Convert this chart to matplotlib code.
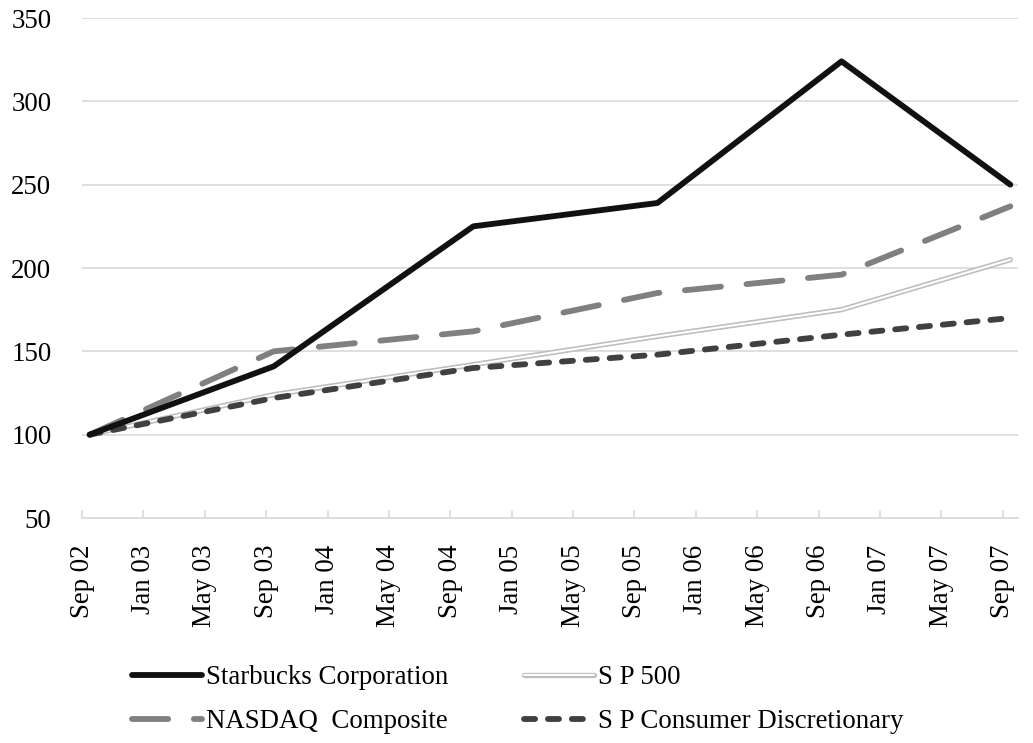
import matplotlib
matplotlib.use("Agg")
import matplotlib.pyplot as plt
import matplotlib.patheffects as pe
import numpy as np

# Fiscal year-end dates and indexed values (base 100)
dates = ['2002-09-29', '2003-09-28', '2004-10-03', '2005-10-02', '2006-10-01', '2007-09-30']
starbucks = [100, 141, 225, 239, 324, 250]
nasdaq = [100, 150, 162, 185, 196, 237]
sp500 = [100, 124, 142, 159, 175, 205]
sp_consumer = [100, 122, 140, 148, 160, 170]

tick_labels = ['Sep 02', 'Jan 03', 'May 03', 'Sep 03', 'Jan 04', 'May 04',
               'Sep 04', 'Jan 05', 'May 05', 'Sep 05', 'Jan 06', 'May 06',
               'Sep 06', 'Jan 07', 'May 07', 'Sep 07']

plt.rcParams['font.family'] = ['Liberation Serif', 'DejaVu Serif']

# month axis: 0 = Sep 2002, points sit in the middle of their month
def month_pos(d):
    y, m, _ = d.split('-')
    return (int(y) - 2002) * 12 + int(m) - 9 + 0.5

x = np.array([month_pos(d) for d in dates])

fig = plt.figure(figsize=(10.33, 7.43), dpi=100)
ax = fig.add_axes([82 / 1033, 1 - 518 / 743, (1018 - 82) / 1033, 500 / 743])

lw = 4.2
ax.plot(x, starbucks, color='#111111', lw=lw, solid_capstyle='round',
        label='Starbucks Corporation', zorder=5)
ax.plot(x, sp500, color='white', lw=1.5, solid_capstyle='round',
        path_effects=[pe.Stroke(linewidth=3.8, foreground='#bdbdbd'), pe.Normal()],
        label='S P 500', zorder=3)
ax.plot(x, nasdaq, color='#808080', lw=lw, dashes=(6.2, 4.4), dash_capstyle='round',
        label='NASDAQ  Composite', zorder=4)
ax.plot(x, sp_consumer, color='#404040', lw=lw, dashes=(1.9, 2.2), dash_capstyle='round',
        label='S P Consumer Discretionary', zorder=4)

ax.set_xlim(0, 61)
ax.set_ylim(50, 350)
ax.set_yticks(np.arange(50, 351, 50))
ax.set_xticks(np.arange(0, 61, 4))
ax.set_xticklabels(tick_labels, rotation=90)

ax.grid(axis='y', color='#d9d9d9', lw=1.2)
ax.set_axisbelow(True)
for s in ['top', 'right', 'left']:
    ax.spines[s].set_visible(False)
ax.spines['bottom'].set_color('#d9d9d9')
ax.spines['bottom'].set_linewidth(1.2)
ax.tick_params(axis='y', length=0, pad=22, labelsize=19.4)
ax.tick_params(axis='x', direction='in', length=5.5, width=1.2, color='#d9d9d9',
               pad=19, labelsize=19.4)

# legend order: row-wise Starbucks / S P 500, NASDAQ / Consumer
handles, labels = ax.get_legend_handles_labels()
order = [0, 2, 1, 3]
fig.legend([handles[i] for i in order], [labels[i] for i in order],
           ncol=2, loc='upper left', bbox_to_anchor=(132 / 1033, 1 - 665 / 743),
           frameon=False, fontsize=19.4, handlelength=2.6, handletextpad=0.15,
           columnspacing=2.8, labelspacing=0.72, borderpad=0, borderaxespad=0)

plt.savefig('out.png', dpi=100)
